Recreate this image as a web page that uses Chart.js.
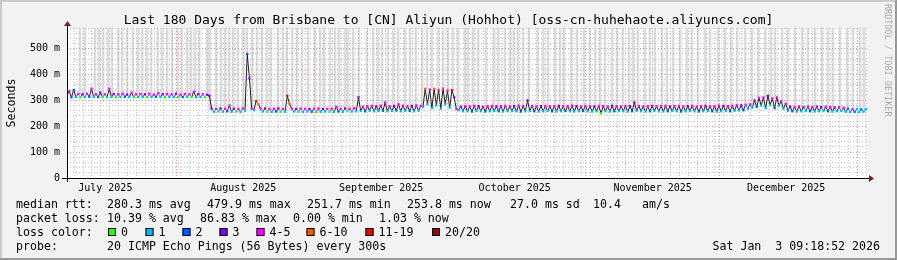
<!DOCTYPE html>
<html lang="en">
<head>
<meta charset="UTF-8">
<title>Smokeping - Brisbane to Aliyun (Hohhot)</title>
<script src="https://cdn.jsdelivr.net/npm/chart.js"></script>
<style>
  html, body { margin: 0; padding: 0; background: #f2f2f2; }
  canvas { display: block; }
</style>
</head>
<body>
<canvas id="grafico" width="897" height="260"></canvas>
<script>
  // x is in days since Mon Jul 7 09:18:52 2025 (180 day window)
  const monthLabels = ['July 2025', 'August 2025', 'September 2025', 'October 2025', 'November 2025', 'December 2025'];
  const monthLabelDays = [8.61, 39.61, 70.61, 100.61, 131.61, 161.61];
  const monthStartDays = [24.61, 55.61, 85.61, 116.61, 146.61, 177.61];

  // two median rtt samples per day (ms), morning / evening
  const medianAm = [
    320, 312, 313, 312, 313, 314, 313, 313, 312, 313,
    313, 312, 313, 314, 313, 312, 313, 313, 312, 313,
    314, 313, 312, 313, 313, 312, 313, 314, 313, 312,
    313, 313, 318, 256, 257, 256, 258, 256, 257, 255,
    260, 385, 262, 285, 257, 256, 255, 257, 256, 256,
    286, 257, 256, 255, 257, 256, 255, 256, 257, 256,
    256, 257, 256, 258, 257, 258, 259, 258, 260, 258,
    259, 260, 258, 259, 261, 258, 260, 259, 258, 260,
    275, 285, 270, 280, 268, 285, 272, 312, 262, 258,
    258, 257, 259, 258, 257, 258, 259, 258, 257, 258,
    259, 258, 257, 258, 259, 258, 257, 258, 259, 258,
    257, 258, 259, 258, 257, 258, 259, 258, 257, 258,
    250, 258, 257, 258, 259, 258, 257, 258, 259, 258,
    257, 258, 259, 258, 257, 258, 259, 258, 257, 258,
    259, 258, 257, 258, 259, 258, 257, 258, 259, 258,
    260, 261, 262, 268, 272, 275, 280, 270, 282, 270,
    280, 268, 260, 258, 257, 258, 259, 258, 257, 258,
    259, 258, 257, 258, 259, 256, 255, 256, 255, 256
  ];
  const medianPm = [
    336, 340, 325, 324, 326, 346, 324, 330, 324, 345,
    325, 324, 326, 323, 330, 324, 325, 324, 326, 323,
    328, 324, 325, 324, 326, 323, 325, 324, 334, 325,
    324, 322, 268, 267, 269, 268, 280, 268, 267, 269,
    480, 268, 297, 268, 269, 267, 268, 269, 267, 318,
    268, 267, 269, 268, 267, 268, 269, 267, 268, 268,
    275, 268, 269, 268, 270, 312, 276, 278, 279, 277,
    280, 292, 278, 279, 285, 280, 278, 279, 281, 279,
    345, 342, 345, 340, 346, 338, 340, 266, 276, 278,
    277, 279, 278, 276, 278, 279, 277, 278, 279, 277,
    278, 280, 278, 300, 279, 277, 278, 279, 277, 278,
    279, 277, 278, 280, 278, 277, 279, 278, 277, 279,
    278, 277, 279, 278, 277, 279, 278, 292, 279, 277,
    278, 279, 277, 278, 279, 277, 278, 279, 277, 278,
    279, 277, 278, 279, 277, 278, 280, 279, 278, 279,
    282, 281, 283, 285, 300, 310, 312, 318, 308, 312,
    297, 288, 276, 275, 277, 274, 276, 275, 277, 274,
    276, 275, 273, 274, 272, 268, 266, 267, 265, 266
  ];

  // loss class of each sample (index into lossColors)
  const lossAm = [
    4, 2, 1, 0, 1, 2, 1, 2, 0, 1,  1, 0, 1, 2, 1, 0, 1, 1, 0, 1,  2, 1, 0, 1, 1, 0, 2, 1, 0, 1,
    1, 0, 3, 1, 0, 1, 2, 1, 0, 1,  1, 3, 1, 5, 1, 0, 1, 2, 0, 1,  5, 1, 0, 1, 1, 2, 0, 1, 1, 0,
    1, 2, 1, 0, 1, 1, 1, 2, 1, 1,  1, 2, 1, 1, 2, 1, 1, 2, 1, 1,  1, 1, 1, 1, 1, 1, 1, 3, 1, 1,
    1, 2, 1, 1, 2, 1, 1, 2, 1, 1,  1, 1, 2, 1, 1, 2, 1, 1, 1, 2,  1, 1, 2, 1, 1, 1, 2, 1, 1, 1,
    0, 1, 1, 2, 1, 1, 1, 2, 1, 1,  1, 2, 1, 1, 1, 2, 1, 1, 2, 1,  1, 1, 2, 1, 1, 2, 1, 1, 1, 2,
    1, 1, 2, 1, 1, 2, 1, 1, 1, 2,  1, 1, 1, 2, 1, 1, 1, 2, 1, 1,  1, 2, 1, 1, 1, 1, 1, 2, 1, 1
  ];
  const lossPm = [
    4, 2, 4, 3, 4, 4, 4, 2, 4, 4,  3, 4, 4, 3, 4, 4, 4, 3, 4, 4,  4, 3, 4, 4, 3, 4, 4, 4, 4, 3,
    4, 3, 3, 4, 3, 4, 4, 3, 4, 4,  2, 4, 6, 4, 3, 4, 4, 3, 4, 6,  4, 3, 4, 4, 3, 4, 4, 3, 4, 4,
    4, 4, 3, 4, 4, 3, 4, 4, 4, 3,  4, 4, 4, 3, 4, 4, 4, 3, 4, 4,  5, 4, 5, 4, 5, 4, 6, 4, 3, 4,
    4, 4, 3, 4, 4, 4, 3, 4, 4, 4,  3, 4, 4, 3, 4, 4, 3, 4, 4, 4,  3, 4, 4, 4, 3, 4, 4, 4, 3, 4,
    4, 4, 3, 4, 4, 4, 3, 3, 4, 4,  4, 3, 4, 4, 4, 3, 4, 4, 4, 3,  4, 4, 4, 3, 4, 4, 4, 3, 4, 4,
    4, 3, 4, 4, 3, 4, 4, 3, 4, 4,  4, 4, 3, 4, 4, 3, 4, 4, 4, 3,  4, 4, 3, 4, 4, 2, 4, 1, 2, 1
  ];

  // moments where the smoke (lost / very slow pings) goes off the top of the graph
  const smokeDays = [
    2.9, 4.0, 6.3, 7.2, 8.1, 9.2, 10.1, 11.5, 12.4, 13.5, 14.8, 16.0, 16.9, 18.0, 18.9, 20.4,
    21.3, 22.5, 23.6, 24.9, 25.8, 27.0, 27.9, 28.8, 29.7, 31.5, 32.1, 33.5, 34.6, 35.5, 36.4,
    37.3, 38.4, 39.6, 40.4, 41.6, 42.7, 43.8, 44.9, 45.8, 47.4, 48.5, 49.4, 50.6, 51.7, 52.8,
    54.2, 55.7, 56.9, 57.8, 59.1, 60.2, 61.1, 62.5, 63.1, 64.3, 65.6, 67.4, 68.8, 69.9, 70.8,
    72.1, 73.3, 74.4, 76.0, 77.1, 78.4, 79.8, 80.9, 82.0, 83.4, 84.5, 85.6, 86.7, 87.9, 89.4,
    90.1, 91.2, 92.4, 94.2, 96.0, 96.9, 98.4, 99.6, 100.4, 101.3, 102.5, 103.8, 105.8, 107.0,
    108.1, 109.7, 110.8, 111.7, 113.3, 114.6, 116.2, 117.5, 118.7, 119.8, 120.9, 122.5, 123.6,
    124.9, 126.3, 127.2, 128.3, 129.9, 131.0, 132.1, 133.7, 134.8, 136.2, 137.8, 139.3, 140.4,
    141.8, 143.4, 144.5, 146.3, 147.9, 149.2, 150.6, 152.4, 153.9, 155.3, 156.9, 158.2, 159.1,
    160.7, 162.0, 163.6, 165.2, 166.5, 168.1, 169.7, 171.0, 172.1, 173.7, 175.3, 176.6, 178.2, 179.1
  ];

  const lossColors = ['#26ff00', '#00b8ff', '#0059ff', '#7e00ff', '#ff00ff', '#ff5a00', '#ff0000', '#a00000'];
  const lossLabels = ['0', '1', '2', '3', '4-5', '6-10', '11-19', '20/20'];
  const legendBoxX = [108, 145.5, 182.5, 219.5, 256.5, 306.5, 365.5, 432];

  const statsRtt = ['280.3 ms avg', '479.9 ms max', '251.7 ms min', '253.8 ms now', '27.0 ms sd', '10.4', 'am/s'];
  const statsRttX = [107, 207, 307, 407, 510, 593, 642];
  const statsLoss = ['10.39 % avg', '86.83 % max', '0.00 % min', '1.03 % now'];
  const statsLossX = [107, 200, 293, 379];

  const titulo = 'Last 180 Days from Brisbane to [CN] Aliyun (Hohhot) [oss-cn-huhehaote.aliyuncs.com]';
  const sonda = '20 ICMP Echo Pings (56 Bytes) every 300s';
  const dataHora = 'Sat Jan  3 09:18:52 2026';

  const MONO = '"DejaVu Sans Mono", monospace';
  const Y_MAX = 580;
  const RED_GRID = 'rgba(230, 60, 60, 0.55)';
  const GREY_GRID = 'rgba(150, 150, 150, 0.5)';

  // median line points, two per day
  const pontos = [];
  const perdas = [];
  for (let d = 0; d < medianAm.length; d++) {
    pontos.push({ x: d, y: medianAm[d] });
    perdas.push(lossAm[d]);
    pontos.push({ x: d + 0.5, y: medianPm[d] });
    perdas.push(lossPm[d]);
  }

  const fumaca = smokeDays.map(d => ({ x: d, y: [medianPm[Math.min(179, Math.floor(d))], Y_MAX] }));

  // x ticks: dotted grey line every second day, red at month starts, labels mid month
  const xTicks = [];
  for (let d = 1.61; d < 180; d += 2) xTicks.push({ value: d, line: 'minor', label: '' });
  monthStartDays.forEach(m => {
    const t = xTicks.find(t => Math.abs(t.value - m) < 0.3);
    if (t) t.line = 'major';
    else xTicks.push({ value: m, line: 'major', label: '' });
  });
  monthLabelDays.forEach((m, i) => {
    const t = xTicks.find(t => Math.abs(t.value - m) < 0.3);
    if (t) t.label = monthLabels[i];
    else xTicks.push({ value: m, line: 'none', label: monthLabels[i] });
  });
  xTicks.sort((a, b) => a.value - b.value);

  const yTicks = [];
  for (let v = 0; v <= Y_MAX; v += 20) yTicks.push(v);

  const moldura = {
    id: 'moldura',
    beforeDraw(chart) {
      const { ctx, chartArea: a, width, height } = chart;
      ctx.save();
      ctx.fillStyle = '#f2f2f2';
      ctx.fillRect(0, 0, width, height);
      ctx.fillStyle = '#cbcbcb';
      ctx.fillRect(0, 0, width, 2);
      ctx.fillRect(0, 0, 2, height);
      ctx.fillStyle = '#999999';
      ctx.fillRect(0, height - 2, width, 2);
      ctx.fillRect(width - 2, 0, 2, height);
      ctx.fillStyle = '#ffffff';
      ctx.fillRect(a.left, a.top, a.right - a.left, a.bottom - a.top);
      ctx.restore();
    },
    afterDraw(chart) {
      const { ctx, chartArea: a } = chart;
      ctx.save();

      // axes with arrows
      ctx.strokeStyle = '#000';
      ctx.lineWidth = 1;
      ctx.beginPath();
      ctx.moveTo(a.left + 0.5, a.bottom + 4);
      ctx.lineTo(a.left + 0.5, a.top - 3);
      ctx.moveTo(a.left - 5, a.bottom + 0.5);
      ctx.lineTo(a.right + 2, a.bottom + 0.5);
      ctx.stroke();
      ctx.fillStyle = '#8b1a1a';
      ctx.beginPath();
      ctx.moveTo(a.left + 0.5, a.top - 7);
      ctx.lineTo(a.left - 3, a.top - 2);
      ctx.lineTo(a.left + 4, a.top - 2);
      ctx.closePath();
      ctx.fill();
      ctx.beginPath();
      ctx.moveTo(a.right + 6, a.bottom + 0.5);
      ctx.lineTo(a.right + 1, a.bottom - 3);
      ctx.lineTo(a.right + 1, a.bottom + 4);
      ctx.closePath();
      ctx.fill();

      // title
      ctx.fillStyle = '#000';
      ctx.font = '13px ' + MONO;
      ctx.textAlign = 'center';
      ctx.textBaseline = 'alphabetic';
      ctx.fillText(titulo, chart.width / 2, 24);

      // y axis title
      ctx.save();
      ctx.translate(15, 103);
      ctx.rotate(-Math.PI / 2);
      ctx.font = '11.6px ' + MONO;
      ctx.fillText('Seconds', 0, 0);
      ctx.restore();

      // watermark
      ctx.save();
      ctx.translate(885, 4);
      ctx.rotate(Math.PI / 2);
      ctx.font = '8.5px ' + MONO;
      ctx.fillStyle = '#a8a8a8';
      ctx.textAlign = 'left';
      ctx.fillText('RRDTOOL / TOBI OETIKER', 0, 0);
      ctx.restore();

      // legend
      ctx.font = '11.6px ' + MONO;
      ctx.textAlign = 'left';
      ctx.fillStyle = '#000';
      ctx.fillText('median rtt:', 16, 208);
      statsRtt.forEach((s, i) => ctx.fillText(s, statsRttX[i], 208));
      ctx.fillText('packet loss:', 16, 222);
      statsLoss.forEach((s, i) => ctx.fillText(s, statsLossX[i], 222));
      ctx.fillText('loss color:', 16, 236);
      lossLabels.forEach((s, i) => {
        const bx = legendBoxX[i];
        ctx.fillStyle = lossColors[i];
        ctx.fillRect(bx, 228, 8, 8);
        ctx.strokeStyle = '#000';
        ctx.strokeRect(bx + 0.5, 228.5, 7, 7);
        ctx.fillStyle = '#000';
        ctx.fillText(s, bx + 13, 236);
      });
      ctx.fillText('probe:', 16, 250);
      ctx.fillText(sonda, 107, 250);
      ctx.textAlign = 'right';
      ctx.fillText(dataHora, 880, 250);

      ctx.restore();
    }
  };

  new Chart(document.getElementById('grafico'), {
    type: 'line',
    data: {
      datasets: [
        {
          type: 'bar',
          label: 'smoke',
          data: fumaca,
          backgroundColor: 'rgba(165, 165, 165, 0.38)',
          borderWidth: 0,
          barThickness: 2,
          grouped: false,
          order: 2
        },
        {
          type: 'line',
          label: 'median rtt',
          data: pontos,
          borderWidth: 1,
          tension: 0,
          pointRadius: 1.6,
          pointStyle: 'rect',
          pointBorderWidth: 0,
          pointBackgroundColor: perdas.map(p => lossColors[p]),
          segment: {
            borderColor: ctx => Math.abs(ctx.p1.parsed.y - ctx.p0.parsed.y) > 15 ? '#1e1e1e' : lossColors[perdas[ctx.p1DataIndex]]
          },
          order: 1
        }
      ]
    },
    options: {
      responsive: false,
      devicePixelRatio: 1,
      animation: false,
      events: [],
      layout: { padding: { left: 0, top: 28, right: 29, bottom: 0 } },
      plugins: {
        legend: { display: false },
        tooltip: { enabled: false }
      },
      scales: {
        x: {
          type: 'linear',
          min: 0,
          max: 180,
          offset: false,
          afterBuildTicks: scale => { scale.ticks = xTicks; },
          afterFit: scale => { scale.height = 82; },
          border: { display: false, dash: [1, 2] },
          grid: {
            offset: false,
            drawTicks: false,
            color: ctx => {
              const line = ctx.tick ? ctx.tick.line : 'none';
              if (line === 'major') return RED_GRID;
              if (line === 'minor') return GREY_GRID;
              return 'rgba(0, 0, 0, 0)';
            }
          },
          ticks: {
            autoSkip: false,
            maxRotation: 0,
            padding: 4,
            color: '#000',
            font: { family: MONO, size: 10 },
            callback: (v, i, ticks) => ticks[i].label || ''
          }
        },
        y: {
          type: 'linear',
          min: 0,
          max: Y_MAX,
          afterBuildTicks: scale => { scale.ticks = yTicks.map(v => ({ value: v })); },
          afterFit: scale => { scale.width = 67; },
          border: { display: false, dash: [1, 2] },
          grid: {
            drawTicks: false,
            color: ctx => {
              const v = ctx.tick ? ctx.tick.value : null;
              if (v === 0) return 'rgba(0, 0, 0, 0)';
              return v % 100 === 0 ? RED_GRID : GREY_GRID;
            }
          },
          ticks: {
            autoSkip: false,
            padding: 7,
            color: '#000',
            font: { family: MONO, size: 10 },
            callback: v => v % 100 === 0 ? (v === 0 ? '0' : v + ' m') : ''
          }
        }
      }
    },
    plugins: [moldura]
  });
</script>
</body>
</html>
